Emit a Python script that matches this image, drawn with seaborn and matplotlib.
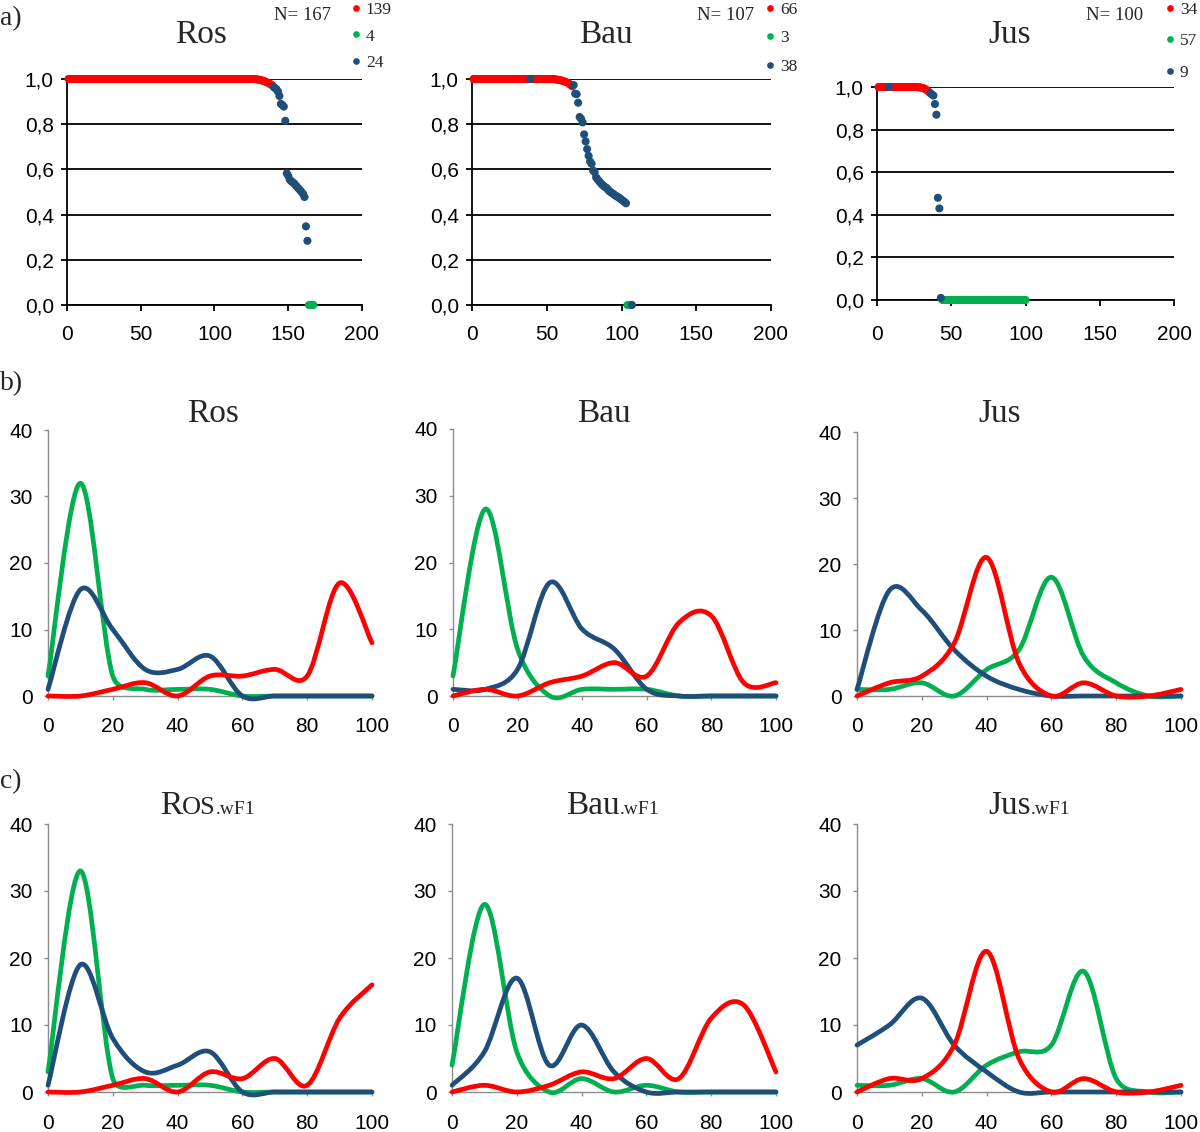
import numpy as np
import pandas as pd
import matplotlib
matplotlib.use('Agg')
from matplotlib import pyplot as plt
from matplotlib.path import Path
from matplotlib.patches import PathPatch
from matplotlib.lines import Line2D
from matplotlib.ticker import FuncFormatter
import seaborn as sns

sns.set_theme(style='white')
plt.rcParams['font.family'] = ['Liberation Sans', 'DejaVu Sans']
SERIF = ['Liberation Serif', 'DejaVu Serif']

RED = '#FF0000'
GREEN = '#00B050'
BLUE = '#1F4E79'

# ---------------- a) ranked values ----------------
ros_red = [1.0] * 125 + [1.0, 1.0, 0.999, 0.998, 0.997, 0.996, 0.994, 0.992,
                         0.99, 0.987, 0.984, 0.981, 0.977, 0.973]
ros_green = [0.0] * 4
ros_blue = [0.965, 0.96, 0.955, 0.945, 0.925, 0.89, 0.885, 0.878, 0.815, 0.583,
            0.571, 0.555, 0.548, 0.543, 0.538, 0.53, 0.522, 0.515, 0.508, 0.5,
            0.492, 0.478, 0.348, 0.284]
ros_red_rank = list(range(1, 140))
ros_blue_rank = list(range(140, 164))
ros_green_rank = list(range(164, 168))

bau_red = [1.0] * 53 + [0.999, 0.998, 0.997, 0.996, 0.995, 0.993, 0.991, 0.989,
                        0.986, 0.983, 0.979, 0.974, 0.968]
bau_green = [0.0] * 3
bau_blue = [1.0,
            0.973, 0.935, 0.933, 0.895, 0.832, 0.824, 0.808, 0.755, 0.724, 0.69,
            0.66, 0.635, 0.625, 0.595, 0.588, 0.565, 0.556, 0.548, 0.54, 0.533,
            0.527, 0.522, 0.518, 0.51, 0.503, 0.498, 0.494, 0.489, 0.484, 0.48,
            0.476, 0.472, 0.466, 0.461, 0.456, 0.45,
            0.0]
bau_red_rank = list(range(1, 39)) + list(range(40, 68))
bau_blue_rank = [39] + list(range(68, 104)) + [107]
bau_green_rank = [104, 105, 106]

jus_red = [1.0] * 26 + [0.999, 0.998, 0.997, 0.995, 0.992, 0.988, 0.983, 0.977]
jus_green = [0.0] * 57
jus_blue = [1.0, 0.97, 0.965, 0.96, 0.92, 0.87, 0.48, 0.43, 0.01]
jus_red_rank = list(range(1, 8)) + list(range(9, 36))
jus_blue_rank = [8] + list(range(36, 44))
jus_green_rank = list(range(44, 101))

# ---------------- b) / c) distributions ----------------
x_pct = [0, 10, 20, 30, 40, 50, 60, 70, 80, 90, 100]

ros_b_green = [3, 32, 3, 1, 1, 1, 0, 0, 0, 0, 0]
ros_b_blue = [1, 16, 10, 4, 4, 6, 0, 0, 0, 0, 0]
ros_b_red = [0, 0, 1, 2, 0, 3, 3, 4, 3, 17, 8]

bau_b_green = [3, 28, 7, 0, 1, 1, 1, 0, 0, 0, 0]
bau_b_blue = [1, 1, 4, 17, 10, 7, 1, 0, 0, 0, 0]
bau_b_red = [0, 1, 0, 2, 3, 5, 3, 11, 12, 2, 2]

jus_b_green = [1, 1, 2, 0, 4, 7, 18, 6, 2, 0, 0]
jus_b_blue = [1, 16, 13, 7, 3, 1, 0, 0, 0, 0, 0]
jus_b_red = [0, 2, 3, 8, 21, 5, 0, 2, 0, 0, 1]

ros_c_green = [3, 33, 2, 1, 1, 1, 0, 0, 0, 0, 0]
ros_c_blue = [1, 19, 8, 3, 4, 6, 0, 0, 0, 0, 0]
ros_c_red = [0, 0, 1, 2, 0, 3, 2, 5, 1, 11, 16]

bau_c_green = [4, 28, 6, 0, 2, 0, 1, 0, 0, 0, 0]
bau_c_blue = [1, 6, 17, 4, 10, 3, 0, 0, 0, 0, 0]
bau_c_red = [0, 1, 0, 1, 3, 2, 5, 2, 11, 13, 3]

jus_c_green = [1, 1, 2, 0, 4, 6, 7, 18, 2, 0, 0]
jus_c_blue = [7, 10, 14, 7, 3, 0, 0, 0, 0, 0, 0]
jus_c_red = [0, 2, 2, 7, 21, 5, 0, 2, 0, 0, 1]

W, H = 1200, 1132
fig = plt.figure(figsize=(12, 11.32), dpi=100)


def px_axes(x0, x1, ytop, ybot):
    return fig.add_axes([x0 / W, 1 - ybot / H, (x1 - x0) / W, (ybot - ytop) / H])


def ftext(x, y, s, size, **kw):
    return fig.text(x / W, 1 - y / H, s, fontsize=size, family=SERIF,
                    va='baseline', **kw)


def rank_panel(ax, red, red_rank, green, green_rank, blue, blue_rank, xpad):
    df = pd.DataFrame({
        'rank': red_rank + green_rank + blue_rank,
        'value': red + green + blue,
        'group': ['red'] * len(red) + ['green'] * len(green) + ['blue'] * len(blue),
    })
    sns.scatterplot(data=df, x='rank', y='value', hue='group',
                    palette={'red': RED, 'green': GREEN, 'blue': BLUE},
                    s=34, linewidth=0, legend=False, ax=ax, clip_on=False, zorder=3)
    ax.set_xlim(0, 200)
    ax.set_ylim(0, 1.0)
    ax.set_xticks([0, 50, 100, 150, 200])
    ax.set_yticks([0, 0.2, 0.4, 0.6, 0.8, 1.0])
    ax.yaxis.set_major_formatter(FuncFormatter(lambda v, p: f'{v:.1f}'.replace('.', ',')))
    ax.grid(axis='y', color='black', lw=1.3)
    ax.set_axisbelow(True)
    sns.despine(ax=ax)
    for s in ['left', 'bottom']:
        ax.spines[s].set_color('black')
        ax.spines[s].set_linewidth(1.3)
    ax.tick_params(axis='both', which='both', direction='out', color='black',
                   width=1.3, length=4.5, labelsize=15, labelcolor='black')
    ax.tick_params(axis='x', bottom=True, pad=xpad)
    ax.tick_params(axis='y', left=True, pad=5)
    ax.set_xlabel('')
    ax.set_ylabel('')


def smooth_line(ax, xs, ys, color, xspan=100, yspan=40):
    # smoothed line through the data points (Bezier, tangents limited in screen space)
    sx = ax.bbox.width / xspan
    sy = ax.bbox.height / yspan
    P = np.column_stack([np.asarray(xs, float) * sx, np.asarray(ys, float) * sy])
    n = len(P)
    verts = [tuple(P[0])]
    codes = [Path.MOVETO]
    for i in range(n - 1):
        a = i - 1 if i > 0 else i
        d = i + 2 if i + 2 < n else i + 1
        seg = np.hypot(*(P[i + 1] - P[i]))
        t1 = (P[i + 1] - P[a]) / 6
        t2 = (P[d] - P[i]) / 6
        for t in (t1, t2):
            L = np.hypot(*t)
            if L > 0.5 * seg:
                t *= 0.5 * seg / L
        verts += [tuple(P[i] + t1), tuple(P[i + 1] - t2), tuple(P[i + 1])]
        codes += [Path.CURVE4] * 3
    verts = [(vx / sx, vy / sy) for vx, vy in verts]
    ax.add_patch(PathPatch(Path(verts, codes), fill=False, edgecolor=color, lw=3.4,
                           capstyle='round', joinstyle='round', clip_on=False, zorder=3))


def dist_panel(ax, green, blue, red, xpad):
    for ys, c in [(green, GREEN), (blue, BLUE), (red, RED)]:
        smooth_line(ax, x_pct, ys, c)
    ax.set_xlim(0, 100)
    ax.set_ylim(0, 40)
    ax.set_xticks([0, 20, 40, 60, 80, 100])
    ax.set_yticks([0, 10, 20, 30, 40])
    sns.despine(ax=ax)
    for s in ['left', 'bottom']:
        ax.spines[s].set_color('#8c8c8c')
        ax.spines[s].set_linewidth(1.0)
    ax.tick_params(axis='both', direction='out', color='#8c8c8c', width=1.0,
                   length=3, labelsize=15, labelcolor='black')
    ax.tick_params(axis='x', bottom=True, pad=xpad)
    ax.tick_params(axis='y', left=True, pad=8)


# ---- row a ----
a_axes = [px_axes(67, 362, 79, 305), px_axes(472, 771, 79, 305), px_axes(877, 1174, 87, 300)]
rank_panel(a_axes[0], ros_red, ros_red_rank, ros_green, ros_green_rank, ros_blue, ros_blue_rank, 10)
rank_panel(a_axes[1], bau_red, bau_red_rank, bau_green, bau_green_rank, bau_blue, bau_blue_rank, 10)
rank_panel(a_axes[2], jus_red, jus_red_rank, jus_green, jus_green_rank, jus_blue, jus_blue_rank, 13.5)

for t, x in [('Ros', 201.5), ('Bau', 605.5), ('Jus', 1010)]:
    ftext(x, 43, t, 24, ha='center')

for t, x in [('N= 167', 302), ('N= 107', 726), ('N= 100', 1115)]:
    ftext(x, 19.5, t, 13.5, ha='center')

leg_specs = [((ros_red, ros_green, ros_blue), 351, 0.62),
             ((bau_red, bau_green, bau_blue), 765, 0.72),
             ((jus_red, jus_green, jus_blue), 1165, 0.9)]
for groups, lx, sp in leg_specs:
    handles = [Line2D([], [], marker='o', ls='', color=c, markersize=4.8, markeredgewidth=0)
               for c in (RED, GREEN, BLUE)]
    labels = [str(len(g)) for g in groups]
    fig.legend(handles, labels, loc='upper left', bbox_to_anchor=(lx / W, 1 - 1.5 / H),
               frameon=False, prop={'family': SERIF, 'size': 12.5}, handlelength=0.6,
               handletextpad=0.25, labelspacing=sp, borderpad=0, borderaxespad=0)

# ---- row b ----
b_axes = [px_axes(48, 372, 430, 696), px_axes(453, 776, 429, 696), px_axes(857, 1181, 432, 696)]
dist_panel(b_axes[0], ros_b_green, ros_b_blue, ros_b_red, 12)
dist_panel(b_axes[1], bau_b_green, bau_b_blue, bau_b_red, 12)
dist_panel(b_axes[2], jus_b_green, jus_b_blue, jus_b_red, 12)
for t, x in [('Ros', 213), ('Bau', 604), ('Jus', 1000)]:
    ftext(x, 422.5, t, 24, ha='center')

# ---- row c ----
c_axes = [px_axes(48, 372, 824, 1092), px_axes(452, 776, 824, 1092), px_axes(857, 1181, 824, 1092)]
dist_panel(c_axes[0], ros_c_green, ros_c_blue, ros_c_red, 13)
dist_panel(c_axes[1], bau_c_green, bau_c_blue, bau_c_red, 13)
dist_panel(c_axes[2], jus_c_green, jus_c_blue, jus_c_red, 13)

renderer = fig.canvas.get_renderer()
c_titles = [(160, [('R', 24), ('OS', 19), ('.wF1', 14)]),
            (566, [('Bau', 24), ('.wF1', 14)]),
            (988, [('Jus', 24), ('.wF1', 14)])]
for x0, parts in c_titles:
    x = x0
    for s, size in parts:
        t = ftext(x, 814, s, size, ha='left')
        x += t.get_window_extent(renderer).width

# panel letters
ftext(0, 25, 'a)', 20, ha='left')
ftext(0, 390, 'b)', 20, ha='left')
ftext(0, 788, 'c)', 20, ha='left')

fig.savefig('out.png', dpi=100)
